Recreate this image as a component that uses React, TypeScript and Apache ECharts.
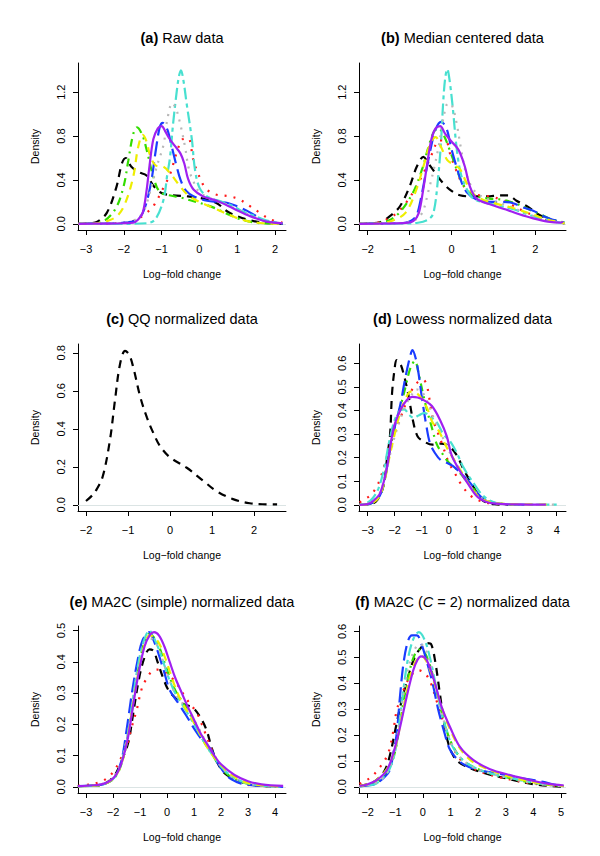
import React, { useEffect, useRef } from "react";
import * as echarts from "echarts";

// ---------- tick values ----------
const X_TICKS_A = [-3, -2, -1, 0, 1, 2];
const X_TICKS_B = [-2, -1, 0, 1, 2];
const X_TICKS_C = [-2, -1, 0, 1, 2];
const X_TICKS_D = [-3, -2, -1, 0, 1, 2, 3, 4];
const X_TICKS_E = [-3, -2, -1, 0, 1, 2, 3, 4];
const X_TICKS_F = [-2, -1, 0, 1, 2, 3, 4, 5];
const Y_TICKS_AB = [0, 0.4, 0.8, 1.2];
const Y_TICKS_C = [0, 0.2, 0.4, 0.6, 0.8];
const Y_TICKS_D = [0, 0.1, 0.2, 0.3, 0.4, 0.5, 0.6];
const Y_TICKS_E = [0, 0.1, 0.2, 0.3, 0.4, 0.5];
const Y_TICKS_F = [0, 0.1, 0.2, 0.3, 0.4, 0.5, 0.6];

// ---------- (a) Raw data ----------
const A_BLACK = [[-3.2,0],[-2.9,0.005],[-2.7,0.02],[-2.45,0.1],[-2.2,0.33],[-2.05,0.55],[-1.95,0.6],[-1.8,0.52],[-1.6,0.47],[-1.4,0.44],[-1.2,0.34],[-1.0,0.28],[-0.7,0.26],[-0.3,0.25],[0.1,0.23],[0.45,0.19],[0.75,0.11],[1.0,0.07],[1.25,0.04],[1.6,0.015],[2.0,0.003],[2.2,0]];
const A_RED = [[-3.2,0],[-2.2,0.005],[-1.8,0.02],[-1.6,0.05],[-1.4,0.1],[-1.22,0.16],[-0.95,0.33],[-0.78,0.45],[-0.6,0.65],[-0.45,0.77],[-0.3,0.78],[-0.16,0.58],[-0.05,0.47],[0.15,0.33],[0.4,0.27],[0.8,0.25],[1.07,0.22],[1.34,0.16],[1.6,0.1],[1.87,0.04],[2.2,0.01]];
const A_GREEN = [[-3.2,0],[-2.8,0.005],[-2.5,0.03],[-2.2,0.15],[-2.0,0.35],[-1.88,0.58],[-1.75,0.82],[-1.65,0.88],[-1.5,0.8],[-1.4,0.68],[-1.22,0.43],[-1.05,0.29],[-0.8,0.26],[-0.5,0.24],[-0.2,0.21],[0.2,0.17],[0.5,0.13],[0.8,0.08],[1.1,0.04],[1.5,0.01],[2.0,0.002],[2.2,0]];
const A_BLUE = [[-3.2,0],[-2.5,0.003],[-2,0.01],[-1.7,0.03],[-1.5,0.1],[-1.3,0.34],[-1.15,0.68],[-1.05,0.88],[-0.97,0.92],[-0.85,0.86],[-0.73,0.7],[-0.6,0.52],[-0.5,0.4],[-0.35,0.3],[-0.15,0.25],[0.2,0.21],[0.5,0.2],[0.75,0.19],[1.0,0.16],[1.25,0.12],[1.5,0.07],[1.7,0.03],[2.0,0.008],[2.2,0]];
const A_CYAN = [[-3.2,0],[-2,0],[-1.4,0.005],[-1.17,0.04],[-0.95,0.22],[-0.85,0.45],[-0.78,0.6],[-0.7,0.9],[-0.62,1.15],[-0.55,1.33],[-0.49,1.4],[-0.42,1.3],[-0.34,1.1],[-0.2,0.77],[-0.12,0.5],[0.0,0.33],[0.2,0.25],[0.6,0.2],[0.9,0.16],[1.1,0.12],[1.4,0.08],[1.7,0.04],[1.9,0.02],[2.2,0.005]];
const A_GRAY = [[-3.2,0],[-2.2,0.005],[-1.8,0.02],[-1.5,0.1],[-1.3,0.3],[-1.13,0.52],[-0.95,0.72],[-0.85,0.95],[-0.72,1.1],[-0.62,1.05],[-0.5,0.9],[-0.38,0.7],[-0.28,0.5],[-0.15,0.38],[0,0.29],[0.3,0.23],[0.7,0.18],[1.0,0.13],[1.4,0.07],[1.8,0.02],[2.2,0.005]];
const A_YELLOW = [[-3.2,0],[-2.7,0.005],[-2.4,0.03],[-2.15,0.08],[-1.95,0.2],[-1.75,0.43],[-1.62,0.7],[-1.5,0.81],[-1.4,0.75],[-1.3,0.62],[-1.15,0.53],[-0.95,0.52],[-0.75,0.45],[-0.55,0.36],[-0.3,0.26],[0,0.2],[0.4,0.14],[0.8,0.08],[1.1,0.04],[1.5,0.01],[2.2,0]];
const A_PURPLE = [[-3.2,0],[-2.5,0.002],[-2,0.005],[-1.75,0.01],[-1.62,0.04],[-1.5,0.1],[-1.4,0.3],[-1.33,0.5],[-1.22,0.77],[-1.1,0.87],[-1.0,0.89],[-0.9,0.84],[-0.8,0.78],[-0.65,0.71],[-0.5,0.64],[-0.4,0.55],[-0.3,0.41],[-0.15,0.31],[0.1,0.25],[0.46,0.21],[0.9,0.14],[1.34,0.07],[1.78,0.02],[2.2,0.005]];

// ---------- (b) Median centered ----------
const B_BLACK = [[-2.2,0],[-1.9,0.005],[-1.7,0.015],[-1.47,0.07],[-1.23,0.16],[-1.0,0.34],[-0.83,0.52],[-0.67,0.61],[-0.55,0.55],[-0.4,0.47],[-0.2,0.37],[0.0,0.3],[0.2,0.26],[0.5,0.25],[0.85,0.25],[1.15,0.26],[1.35,0.26],[1.55,0.21],[1.8,0.16],[2.1,0.08],[2.35,0.04],[2.6,0.01],[2.7,0.005]];
const B_RED = [[-2.2,0],[-1.8,0.008],[-1.55,0.04],[-1.3,0.1],[-1.07,0.2],[-0.85,0.33],[-0.65,0.48],[-0.45,0.65],[-0.3,0.76],[-0.15,0.76],[-0.02,0.62],[0.1,0.5],[0.3,0.34],[0.55,0.27],[0.9,0.25],[1.2,0.22],[1.45,0.17],[1.7,0.12],[2.0,0.07],[2.3,0.03],[2.6,0.01],[2.7,0.005]];
const B_GREEN = [[-2.2,0],[-1.8,0.005],[-1.5,0.03],[-1.2,0.12],[-0.9,0.3],[-0.7,0.5],[-0.55,0.7],[-0.42,0.84],[-0.31,0.87],[-0.2,0.82],[-0.05,0.68],[0.1,0.52],[0.25,0.38],[0.4,0.29],[0.6,0.25],[0.9,0.23],[1.2,0.22],[1.5,0.19],[1.8,0.14],[2.1,0.09],[2.4,0.04],[2.7,0.01]];
const B_BLUE = [[-2.2,0],[-1.5,0.003],[-1.1,0.01],[-0.95,0.03],[-0.83,0.08],[-0.72,0.25],[-0.62,0.45],[-0.5,0.68],[-0.38,0.86],[-0.25,0.93],[-0.12,0.87],[0.0,0.68],[0.12,0.52],[0.22,0.4],[0.36,0.29],[0.6,0.22],[0.9,0.2],[1.2,0.2],[1.45,0.19],[1.7,0.15],[1.95,0.12],[2.2,0.07],[2.4,0.04],[2.7,0.01]];
const B_CYAN = [[-2.2,0],[-1.2,0.003],[-0.8,0.01],[-0.55,0.04],[-0.43,0.1],[-0.32,0.42],[-0.25,0.75],[-0.2,1.1],[-0.15,1.33],[-0.1,1.41],[-0.05,1.32],[0.03,1.06],[0.12,0.7],[0.22,0.46],[0.36,0.32],[0.52,0.23],[0.84,0.19],[1.2,0.16],[1.5,0.13],[1.95,0.07],[2.45,0.02],[2.7,0.005]];
const B_GRAY = [[-2.2,0],[-1.3,0.005],[-0.9,0.03],[-0.7,0.1],[-0.55,0.3],[-0.42,0.5],[-0.3,0.72],[-0.2,0.95],[-0.08,1.1],[0.02,1.07],[0.12,0.92],[0.22,0.7],[0.32,0.5],[0.45,0.36],[0.6,0.28],[0.9,0.22],[1.3,0.17],[1.7,0.11],[2.1,0.05],[2.5,0.015],[2.7,0.005]];
const B_YELLOW = [[-2.2,0],[-1.7,0.005],[-1.4,0.03],[-1.1,0.1],[-0.85,0.3],[-0.65,0.55],[-0.5,0.74],[-0.38,0.79],[-0.25,0.7],[-0.1,0.58],[0.05,0.54],[0.2,0.5],[0.35,0.38],[0.5,0.28],[0.75,0.22],[1.1,0.18],[1.5,0.14],[1.9,0.09],[2.2,0.05],[2.5,0.02],[2.7,0.005]];
const B_PURPLE = [[-2.2,0],[-1.5,0.003],[-1.1,0.008],[-0.9,0.03],[-0.78,0.1],[-0.68,0.3],[-0.59,0.52],[-0.48,0.77],[-0.38,0.87],[-0.27,0.89],[-0.15,0.82],[0.0,0.75],[0.12,0.7],[0.2,0.65],[0.32,0.52],[0.44,0.34],[0.6,0.23],[0.9,0.18],[1.3,0.13],[1.6,0.09],[1.95,0.05],[2.3,0.02],[2.6,0.01],[2.66,0.02]];

// ---------- (c) QQ normalized ----------
const C_BLACK = [[-2,0.02],[-1.85,0.05],[-1.75,0.08],[-1.6,0.15],[-1.43,0.34],[-1.31,0.55],[-1.19,0.74],[-1.07,0.81],[-0.97,0.79],[-0.87,0.72],[-0.71,0.57],[-0.55,0.46],[-0.4,0.38],[-0.24,0.31],[0,0.25],[0.4,0.195],[0.8,0.125],[1.1,0.073],[1.5,0.03],[1.9,0.008],[2.2,0.003],[2.55,0.002]];

// ---------- (d) Lowess normalized ----------
const D_BLACK = [[-3.3,0],[-2.9,0.003],[-2.65,0.02],[-2.42,0.08],[-2.27,0.21],[-2.17,0.3],[-2.1,0.47],[-2.0,0.58],[-1.93,0.614],[-1.8,0.6],[-1.68,0.56],[-1.5,0.47],[-1.31,0.35],[-1.15,0.29],[-0.94,0.27],[-0.6,0.255],[-0.3,0.26],[0.0,0.25],[0.3,0.21],[0.55,0.15],[0.75,0.11],[0.97,0.066],[1.2,0.025],[1.4,0.01],[1.7,0.003],[2.2,0]];
const D_RED = [[-3.3,0.01],[-3.1,0.025],[-2.9,0.04],[-2.7,0.07],[-2.54,0.11],[-2.35,0.18],[-2.15,0.26],[-1.95,0.32],[-1.75,0.38],[-1.55,0.44],[-1.35,0.49],[-1.15,0.52],[-0.95,0.53],[-0.82,0.51],[-0.7,0.44],[-0.6,0.37],[-0.45,0.32],[-0.25,0.26],[0.0,0.18],[0.2,0.14],[0.5,0.08],[0.8,0.04],[1.1,0.02],[1.5,0.007],[2.0,0.002],[2.5,0]];
const D_GREEN = [[-3.3,0],[-2.9,0.005],[-2.6,0.03],[-2.4,0.09],[-2.2,0.22],[-2.0,0.33],[-1.8,0.41],[-1.6,0.5],[-1.42,0.58],[-1.25,0.61],[-1.12,0.56],[-0.95,0.47],[-0.8,0.4],[-0.63,0.33],[-0.45,0.26],[-0.25,0.22],[0.0,0.18],[0.3,0.15],[0.6,0.11],[0.9,0.07],[1.2,0.035],[1.5,0.015],[2.0,0.004],[2.6,0]];
const D_BLUE = [[-3.3,0],[-2.9,0.005],[-2.6,0.03],[-2.4,0.09],[-2.2,0.22],[-2.0,0.33],[-1.8,0.42],[-1.62,0.53],[-1.45,0.62],[-1.34,0.656],[-1.22,0.62],[-1.12,0.56],[-1.0,0.46],[-0.82,0.33],[-0.69,0.26],[-0.51,0.22],[-0.3,0.19],[-0.1,0.18],[0.15,0.165],[0.42,0.137],[0.79,0.094],[1.1,0.045],[1.35,0.02],[1.7,0.007],[2.2,0.002],[2.8,0]];
const D_CYAN = [[-3.3,0],[-3.0,0.01],[-2.8,0.03],[-2.6,0.07],[-2.4,0.15],[-2.2,0.27],[-2.0,0.36],[-1.8,0.4],[-1.65,0.405],[-1.45,0.38],[-1.3,0.37],[-1.1,0.38],[-0.9,0.39],[-0.7,0.375],[-0.44,0.35],[-0.2,0.3],[0.05,0.27],[0.3,0.22],[0.54,0.16],[0.91,0.094],[1.28,0.038],[1.7,0.01],[2.5,0.002],[4.0,0.001]];
const D_GRAY = [[-3.3,0],[-2.9,0.01],[-2.6,0.04],[-2.4,0.1],[-2.2,0.2],[-2.0,0.29],[-1.8,0.36],[-1.6,0.42],[-1.4,0.46],[-1.2,0.49],[-1.0,0.48],[-0.8,0.44],[-0.6,0.38],[-0.4,0.33],[-0.2,0.28],[0.0,0.23],[0.3,0.17],[0.6,0.11],[0.9,0.065],[1.2,0.03],[1.6,0.01],[2.5,0.002],[4.1,0.001]];
const D_YELLOW = [[-3.3,0],[-2.9,0.005],[-2.6,0.03],[-2.4,0.09],[-2.2,0.2],[-2.0,0.3],[-1.8,0.39],[-1.6,0.45],[-1.4,0.48],[-1.2,0.475],[-1.0,0.45],[-0.8,0.41],[-0.6,0.35],[-0.35,0.31],[-0.1,0.25],[0.1,0.21],[0.42,0.15],[0.79,0.08],[1.16,0.03],[1.6,0.01],[2.2,0.004],[3.0,0.002],[3.7,0.001]];
const D_PURPLE = [[-3.3,0],[-3.0,0.003],[-2.79,0.017],[-2.54,0.05],[-2.3,0.15],[-2.05,0.32],[-1.8,0.4],[-1.55,0.445],[-1.35,0.458],[-1.15,0.455],[-0.94,0.445],[-0.63,0.42],[-0.32,0.36],[-0.07,0.29],[0.11,0.21],[0.42,0.143],[0.73,0.087],[1.1,0.031],[1.65,0.006],[2.5,0.002],[3.6,0.001]];

// ---------- (e) MA2C simple ----------
const E_BLACK = [[-3.3,0.002],[-2.7,0.004],[-2.3,0.01],[-1.95,0.035],[-1.7,0.08],[-1.44,0.14],[-1.26,0.23],[-1.05,0.34],[-0.85,0.41],[-0.65,0.44],[-0.5,0.435],[-0.35,0.4],[-0.15,0.35],[0.05,0.31],[0.3,0.285],[0.6,0.265],[0.96,0.253],[1.21,0.226],[1.46,0.183],[1.64,0.129],[1.85,0.08],[2.14,0.043],[2.63,0.02],[3.0,0.008],[3.5,0.003],[4.0,0.001]];
const E_RED = [[-3.3,0.003],[-2.8,0.008],[-2.5,0.015],[-2.23,0.027],[-1.97,0.05],[-1.74,0.086],[-1.49,0.13],[-1.31,0.19],[-1.12,0.247],[-0.95,0.31],[-0.77,0.345],[-0.55,0.37],[-0.35,0.375],[-0.15,0.37],[0.1,0.355],[0.36,0.33],[0.73,0.28],[1.1,0.237],[1.29,0.2],[1.47,0.16],[1.72,0.108],[1.95,0.07],[2.21,0.044],[2.7,0.012],[3.2,0.004],[3.8,0.001]];
const E_GREEN = [[-3.3,0.002],[-2.7,0.004],[-2.3,0.01],[-1.95,0.028],[-1.7,0.07],[-1.45,0.16],[-1.25,0.27],[-1.05,0.38],[-0.85,0.46],[-0.65,0.49],[-0.5,0.48],[-0.3,0.45],[-0.1,0.4],[0.1,0.35],[0.3,0.31],[0.55,0.275],[0.8,0.24],[1.1,0.19],[1.4,0.14],[1.7,0.1],[2.0,0.06],[2.4,0.03],[2.9,0.012],[3.5,0.004],[4.2,0.001]];
const E_BLUE = [[-3.3,0.002],[-2.7,0.004],[-2.3,0.01],[-1.95,0.03],[-1.7,0.08],[-1.5,0.18],[-1.3,0.3],[-1.1,0.4],[-0.9,0.47],[-0.65,0.495],[-0.5,0.47],[-0.33,0.43],[-0.1,0.366],[0.1,0.31],[0.4,0.27],[0.7,0.23],[1.03,0.183],[1.3,0.15],[1.64,0.118],[1.89,0.075],[2.26,0.032],[2.6,0.015],[2.9,0.008],[3.5,0.003],[4.3,0]];
const E_CYAN = [[-3.3,0.002],[-2.7,0.004],[-2.3,0.01],[-1.95,0.03],[-1.7,0.075],[-1.45,0.17],[-1.25,0.29],[-1.05,0.4],[-0.85,0.47],[-0.65,0.5],[-0.5,0.48],[-0.3,0.44],[-0.1,0.39],[0.1,0.34],[0.3,0.3],[0.55,0.265],[0.8,0.23],[1.1,0.185],[1.4,0.14],[1.7,0.1],[2.0,0.065],[2.4,0.033],[2.9,0.013],[3.5,0.004],[4.2,0.001]];
const E_GRAY = [[-3.3,0.002],[-2.7,0.005],[-2.3,0.012],[-1.95,0.035],[-1.7,0.08],[-1.45,0.17],[-1.25,0.28],[-1.05,0.38],[-0.85,0.45],[-0.65,0.475],[-0.5,0.47],[-0.3,0.44],[-0.1,0.39],[0.1,0.34],[0.3,0.3],[0.55,0.27],[0.8,0.24],[1.1,0.2],[1.4,0.15],[1.7,0.105],[2.0,0.065],[2.4,0.033],[2.9,0.013],[3.5,0.004],[4.2,0.001]];
const E_YELLOW = [[-3.3,0.002],[-2.7,0.004],[-2.3,0.01],[-1.95,0.03],[-1.7,0.07],[-1.45,0.16],[-1.25,0.27],[-1.05,0.37],[-0.85,0.45],[-0.65,0.485],[-0.5,0.48],[-0.3,0.46],[-0.1,0.42],[0.1,0.37],[0.3,0.32],[0.55,0.27],[0.8,0.235],[1.1,0.19],[1.4,0.14],[1.7,0.1],[2.0,0.07],[2.4,0.038],[2.9,0.015],[3.5,0.005],[4.2,0.001]];
const E_PURPLE = [[-3.3,0.002],[-2.7,0.005],[-2.3,0.011],[-1.94,0.032],[-1.69,0.075],[-1.44,0.16],[-1.26,0.258],[-1.07,0.355],[-0.83,0.45],[-0.62,0.488],[-0.48,0.495],[-0.3,0.485],[-0.1,0.45],[0.1,0.4],[0.3,0.35],[0.5,0.31],[0.75,0.26],[1.0,0.215],[1.25,0.17],[1.5,0.135],[1.75,0.1],[2.0,0.072],[2.5,0.038],[3.0,0.018],[3.5,0.008],[4.3,0.003]];

// ---------- (f) MA2C C = 2 ----------
const F_BLACK = [[-2.3,0.003],[-2.0,0.01],[-1.7,0.025],[-1.4,0.06],[-1.2,0.12],[-1.0,0.22],[-0.8,0.32],[-0.55,0.42],[-0.3,0.5],[-0.05,0.54],[0.15,0.555],[0.3,0.55],[0.45,0.48],[0.6,0.37],[0.75,0.26],[0.92,0.167],[1.1,0.12],[1.3,0.095],[1.5,0.082],[1.95,0.062],[2.5,0.045],[3.0,0.033],[3.5,0.02],[4.0,0.01],[4.5,0.004],[5.0,0.001]];
const F_RED = [[-2.3,0.012],[-2.16,0.019],[-1.86,0.039],[-1.55,0.077],[-1.31,0.116],[-1.19,0.154],[-1.07,0.218],[-0.95,0.296],[-0.83,0.334],[-0.6,0.4],[-0.35,0.44],[-0.15,0.45],[0.05,0.44],[0.25,0.41],[0.5,0.33],[0.8,0.231],[1.1,0.15],[1.4,0.1],[1.8,0.072],[2.3,0.05],[2.8,0.036],[3.3,0.025],[3.8,0.015],[4.3,0.008],[4.9,0.003]];
const F_GREEN = [[-2.3,0.002],[-2.0,0.006],[-1.7,0.015],[-1.4,0.04],[-1.2,0.075],[-1.0,0.14],[-0.85,0.23],[-0.7,0.33],[-0.5,0.44],[-0.3,0.51],[-0.12,0.53],[0.05,0.52],[0.25,0.47],[0.45,0.39],[0.65,0.3],[0.85,0.22],[1.05,0.165],[1.3,0.12],[1.6,0.09],[2.0,0.068],[2.5,0.05],[3.0,0.037],[3.5,0.025],[4.0,0.015],[4.5,0.008],[5.1,0.003]];
const F_BLUE = [[-2.3,0.002],[-2.0,0.005],[-1.7,0.012],[-1.37,0.04],[-1.2,0.065],[-1.07,0.13],[-0.95,0.205],[-0.83,0.35],[-0.7,0.48],[-0.55,0.56],[-0.4,0.585],[-0.22,0.585],[-0.05,0.55],[0.15,0.48],[0.35,0.4],[0.55,0.3],[0.75,0.22],[0.95,0.15],[1.16,0.116],[1.5,0.085],[2.0,0.065],[2.5,0.055],[3.04,0.045],[3.5,0.035],[4.0,0.026],[4.35,0.019],[4.8,0.008],[5.1,0.003]];
const F_CYAN = [[-2.3,0.002],[-2.0,0.005],[-1.7,0.012],[-1.4,0.04],[-1.2,0.07],[-1.0,0.14],[-0.85,0.25],[-0.7,0.38],[-0.55,0.49],[-0.35,0.57],[-0.15,0.597],[0.05,0.57],[0.25,0.5],[0.45,0.4],[0.65,0.3],[0.85,0.22],[1.05,0.16],[1.3,0.12],[1.6,0.09],[2.0,0.068],[2.5,0.05],[3.0,0.038],[3.5,0.026],[4.0,0.016],[4.5,0.008],[5.1,0.003]];
const F_GRAY = [[-2.3,0.002],[-2.0,0.006],[-1.7,0.015],[-1.4,0.04],[-1.2,0.075],[-1.0,0.15],[-0.85,0.25],[-0.7,0.36],[-0.5,0.47],[-0.3,0.53],[-0.12,0.55],[0.05,0.54],[0.25,0.48],[0.45,0.39],[0.65,0.3],[0.85,0.22],[1.05,0.165],[1.3,0.12],[1.6,0.09],[2.0,0.066],[2.5,0.05],[3.0,0.036],[3.5,0.024],[4.0,0.014],[4.5,0.007],[5.1,0.002]];
const F_YELLOW = [[-2.3,0.003],[-2.0,0.01],[-1.7,0.025],[-1.4,0.055],[-1.2,0.09],[-1.0,0.15],[-0.8,0.25],[-0.6,0.36],[-0.4,0.45],[-0.2,0.495],[-0.05,0.505],[0.1,0.49],[0.3,0.44],[0.5,0.37],[0.7,0.3],[0.95,0.23],[1.3,0.155],[1.7,0.105],[2.2,0.075],[2.8,0.05],[3.4,0.032],[4.0,0.018],[4.6,0.008],[5.1,0.003]];
const F_PURPLE = [[-2.3,0.003],[-2.0,0.01],[-1.67,0.026],[-1.31,0.064],[-1.07,0.13],[-0.83,0.23],[-0.59,0.347],[-0.35,0.45],[-0.2,0.49],[-0.07,0.504],[0.05,0.5],[0.2,0.475],[0.44,0.398],[0.68,0.308],[0.98,0.231],[1.34,0.154],[1.83,0.103],[2.43,0.068],[3.16,0.045],[3.88,0.026],[4.5,0.012],[5.1,0.005]];

// ---------- line styles (drawing order) ----------
const LINE_STYLES: Record<string, { color: string; type: any }> = {
  black: { color: "#000000", type: [8, 6] },
  red: { color: "#ff1a1a", type: [2, 7] },
  green: { color: "#33dd00", type: [2, 5, 8, 5] },
  blue: { color: "#1a3cff", type: [15, 6] },
  cyan: { color: "#48e0d0", type: [4, 4, 12, 4] },
  gray: { color: "#b8b8b8", type: [2, 6] },
  yellow: { color: "#eeee00", type: [8, 6] },
  purple: { color: "#a020f0", type: "solid" },
};
const ORDER = ["black", "red", "green", "blue", "cyan", "gray", "yellow", "purple"];

const FONT = "'Liberation Sans', Arial, Helvetica, sans-serif";

const PANELS = [
  { title: "{b|(a)} Raw data", cx: 182, cy: 38, left: 78, top: 63, width: 208, xMin: -3.212, xMax: 2.29, yMin: -0.0564, yMax: 1.466, xTicks: X_TICKS_A, yTicks: Y_TICKS_AB,
    series: { black: A_BLACK, red: A_RED, green: A_GREEN, blue: A_BLUE, cyan: A_CYAN, gray: A_GRAY, yellow: A_YELLOW, purple: A_PURPLE } },
  { title: "{b|(b)} Median centered data", cx: 462.5, cy: 38, left: 359, top: 63, width: 207, xMin: -2.208, xMax: 2.733, yMin: -0.0564, yMax: 1.466, xTicks: X_TICKS_B, yTicks: Y_TICKS_AB,
    series: { black: B_BLACK, red: B_RED, green: B_GREEN, blue: B_BLUE, cyan: B_CYAN, gray: B_GRAY, yellow: B_YELLOW, purple: B_PURPLE } },
  { title: "{b|(c)} QQ normalized data", cx: 182, cy: 319, left: 78, top: 344, width: 208, xMin: -2.19, xMax: 2.762, yMin: -0.0326, yMax: 0.8466, xTicks: X_TICKS_C, yTicks: Y_TICKS_C,
    series: { black: C_BLACK } },
  { title: "{b|(d)} Lowess normalized data", cx: 462.5, cy: 319, left: 359, top: 344, width: 207, xMin: -3.322, xMax: 4.344, yMin: -0.026, yMax: 0.682, xTicks: X_TICKS_D, yTicks: Y_TICKS_D,
    series: { black: D_BLACK, red: D_RED, green: D_GREEN, blue: D_BLUE, cyan: D_CYAN, gray: D_GRAY, yellow: D_YELLOW, purple: D_PURPLE } },
  { title: "{b|(e)} MA2C (simple) normalized data", cx: 182, cy: 602, left: 78, top: 626, width: 208, xMin: -3.296, xMax: 4.407, yMin: -0.0198, yMax: 0.5148, xTicks: X_TICKS_E, yTicks: Y_TICKS_E,
    series: { black: E_BLACK, red: E_RED, green: E_GREEN, blue: E_BLUE, cyan: E_CYAN, gray: E_GRAY, yellow: E_YELLOW, purple: E_PURPLE } },
  { title: "{b|(f)} MA2C ({i|C} = 2) normalized data", cx: 462.5, cy: 602, left: 359, top: 626, width: 207, xMin: -2.315, xMax: 5.18, yMin: -0.0239, yMax: 0.621, xTicks: X_TICKS_F, yTicks: Y_TICKS_F,
    series: { black: F_BLACK, red: F_RED, green: F_GREEN, blue: F_BLUE, cyan: F_CYAN, gray: F_GRAY, yellow: F_YELLOW, purple: F_PURPLE } },
];
const PLOT_HEIGHT = 167;

const fmtX = (v: number) => (v < 0 ? "\u2212" + Math.abs(v) : String(v));
const fmtY = (v: number) => v.toFixed(1);

export default function App() {
  const ref = useRef<HTMLDivElement>(null);
  useEffect(() => {
    if (!ref.current) return;
    const chart = echarts.init(ref.current, undefined, { renderer: "svg" });
    const grid: any[] = [];
    const xAxis: any[] = [];
    const yAxis: any[] = [];
    const series: any[] = [];
    const graphic: any[] = [];
    PANELS.forEach((p, i) => {
      grid.push({ left: p.left, top: p.top, width: p.width, height: PLOT_HEIGHT });
      xAxis.push({
        type: "value", gridIndex: i, min: p.xMin, max: p.xMax,
        axisLine: { show: true, onZero: false, lineStyle: { color: "#000", width: 1 } },
        axisTick: { show: true, inside: false, length: 5, customValues: p.xTicks, lineStyle: { color: "#000", width: 1 } },
        axisLabel: { show: true, customValues: p.xTicks, formatter: fmtX, color: "#000", fontSize: 11, fontFamily: FONT, margin: 13 },
        splitLine: { show: false },
      });
      yAxis.push({
        type: "value", gridIndex: i, min: p.yMin, max: p.yMax,
        axisLine: { show: true, onZero: false, lineStyle: { color: "#000", width: 1 } },
        axisTick: { show: true, inside: false, length: 5, customValues: p.yTicks, lineStyle: { color: "#000", width: 1 } },
        axisLabel: { show: true, customValues: p.yTicks, formatter: fmtY, rotate: 90, color: "#000", fontSize: 11, fontFamily: FONT, margin: 12 },
        splitLine: { show: false },
      });
      const sMap: any = p.series;
      let first = true;
      ORDER.forEach((key, k) => {
        const data = sMap[key];
        if (!data) return;
        const st = LINE_STYLES[key];
        const s: any = {
          type: "line", xAxisIndex: i, yAxisIndex: i, data, showSymbol: false, symbol: "none",
          smooth: 0.35, silent: true, z: 2 + k,
          lineStyle: { color: st.color, width: 2.2, type: st.type, cap: "butt" },
        };
        if (first) {
          s.markLine = {
            silent: true, symbol: "none", label: { show: false }, z: 1,
            lineStyle: { color: "#dbe4e4", width: 1, type: "solid" },
            data: [{ yAxis: 0 }],
          };
          first = false;
        }
        series.push(s);
      });
      graphic.push({
        type: "text", x: p.cx, y: p.cy,
        style: {
          text: p.title, fill: "#000", fontSize: 14.5, fontFamily: FONT, align: "center", verticalAlign: "middle",
          rich: { b: { fontWeight: "bold", fontSize: 14.5, fontFamily: FONT }, i: { fontStyle: "italic", fontSize: 14.5, fontFamily: FONT } },
        },
      });
      graphic.push({
        type: "text", x: p.left + p.width / 2, y: p.top + PLOT_HEIGHT + 44,
        style: { text: "Log\u2212fold change", fill: "#000", fontSize: 10.5, fontFamily: FONT, align: "center", verticalAlign: "middle" },
      });
      graphic.push({
        type: "text", x: p.left - 43, y: p.top + PLOT_HEIGHT / 2, rotation: Math.PI / 2,
        style: { text: "Density", fill: "#000", fontSize: 10.5, fontFamily: FONT, align: "center", verticalAlign: "middle" },
      });
    });
    chart.setOption({ animation: false, backgroundColor: "#fff", grid, xAxis, yAxis, series, graphic });
    return () => chart.dispose();
  }, []);
  return <div ref={ref} style={{ position: "absolute", left: 0, top: 0, width: 600, height: 856 }} />;
}
